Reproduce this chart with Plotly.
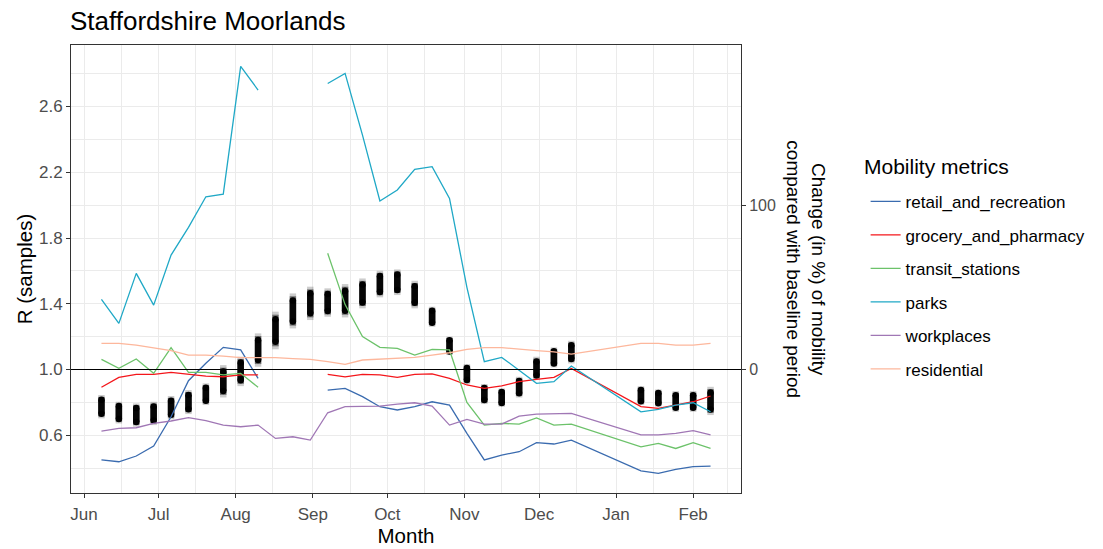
import plotly.graph_objects as go

# weekly dates (no data for 21 Dec - 4 Jan)
weeks = ["2020-06-08", "2020-06-15", "2020-06-22", "2020-06-29", "2020-07-06",
         "2020-07-13", "2020-07-20", "2020-07-27", "2020-08-03", "2020-08-10",
         "2020-08-17", "2020-08-24", "2020-08-31", "2020-09-07", "2020-09-14",
         "2020-09-21", "2020-09-28", "2020-10-05", "2020-10-12", "2020-10-19",
         "2020-10-26", "2020-11-02", "2020-11-09", "2020-11-16", "2020-11-23",
         "2020-11-30", "2020-12-07", "2020-12-14", "2021-01-11", "2021-01-18",
         "2021-01-25", "2021-02-01", "2021-02-08"]

# spread of the R samples per week
r_low = [0.703, 0.672, 0.652, 0.662, 0.697, 0.729, 0.784, 0.830, 0.899, 1.017,
         1.123, 1.250, 1.301, 1.321, 1.317, 1.372, 1.439, 1.453, 1.372, 1.260,
         1.088, 0.912, 0.790, 0.774, 0.830, 0.936, 1.013, 1.037, 0.784, 0.774,
         0.743, 0.743, 0.723]
r_high = [0.845, 0.804, 0.794, 0.804, 0.839, 0.875, 0.916, 1.027, 1.078, 1.220,
          1.352, 1.463, 1.504, 1.494, 1.520, 1.554, 1.601, 1.609, 1.540, 1.382,
          1.200, 1.033, 0.912, 0.885, 0.956, 1.078, 1.135, 1.175, 0.899, 0.879,
          0.869, 0.869, 0.895]

# mobility change (%) vs baseline
retail = [-55.0, -56.1, -52.6, -46.5, -28.7, -6.8, 3.8, 13.5, 11.9, -5.4,
          None, None, None, -12.5, -11.5, -16.5, -22.6, -24.6, -22.6, -19.6,
          -21.6, -38.8, -55.0, -52.0, -50.0, -44.5, -45.3, -42.9, -61.6, -63.2,
          -60.7, -59.1, -58.7]
grocery = [-10.8, -4.8, -2.9, -2.9, -1.7, -2.9, -4.0, -4.4, -3.3, -3.3,
           None, None, None, -2.9, -4.4, -2.9, -3.3, -4.8, -2.9, -2.7,
           -5.4, -9.4, -11.5, -10.0, -7.4, -6.0, -4.8, 0.7, -22.6, -23.6,
           -21.6, -19.6, -16.1]
transit = [6.2, 0.7, 6.4, -2.3, 13.3, -1.7, -1.7, -3.3, -2.3, -10.8,
           None, None, None, 70.7, 39.5, 20.0, 13.5, 12.9, 8.8, 12.3,
           11.9, -20.0, -33.8, -32.8, -33.2, -29.4, -33.8, -33.2, -47.0, -44.9,
           -48.0, -44.5, -48.0]
parks = [42.7, 28.1, 58.5, 39.2, 69.6, 86.5, 105.1, 106.7, 184.4, 170.0,
         None, None, None, 174.0, 180.1, 142.6, 102.5, 109.2, 121.7, 123.4,
         104.1, 50.0, 4.8, 7.4, -0.3, -8.4, -7.4, 2.1, -25.7, -24.2,
         -21.6, -20.2, -25.7]
workplaces = [-37.4, -35.8, -35.4, -32.7, -31.3, -29.3, -31.1, -33.8, -34.8, -33.8,
              -41.9, -40.9, -42.9, -26.3, -22.6, -22.2, -22.2, -21.0, -20.2, -22.2,
              -33.8, -30.3, -33.2, -33.2, -28.3, -27.1, -26.7, -26.7, -39.8, -39.8,
              -38.8, -37.2, -39.8]
residential = [15.9, 15.9, 14.9, 13.3, 11.5, 8.8, 8.8, 8.2, 7.2, 7.2,
               7.2, 6.6, 6.2, 4.8, 3.1, 5.8, 6.4, 7.2, 7.4, 8.8,
               10.2, 12.3, 13.3, 13.3, 12.3, 11.5, 10.8, 9.4, 15.9, 15.9,
               14.9, 14.9, 15.9]

metrics = [
    ("retail_and_recreation", retail, "#3A6BAF"),
    ("grocery_and_pharmacy", grocery, "#F4161B"),
    ("transit_stations", transit, "#6CC26A"),
    ("parks", parks, "#1FA8C6"),
    ("workplaces", workplaces, "#A077B5"),
    ("residential", residential, "#FDB79C"),
]

FONT = "Liberation Sans, Arial, sans-serif"
TICK = 17
AXT = 20.5
fig = go.Figure()

# R samples: stacked translucent strokes, rounded core ends
for frac, alpha in [(0.0, 0.2), (0.08, 0.45), (0.2, 0.95)]:
    xs, ys = [], []
    ends_x, ends_y = [], []
    for d, lo, hi in zip(weeks, r_low, r_high):
        pad = (hi - lo) * frac
        xs += [d, d, None]
        ys += [lo + pad, hi - pad, None]
        ends_x += [d, d]
        ends_y += [lo + pad, hi - pad]
    fig.add_trace(go.Scatter(x=xs, y=ys, mode="lines", showlegend=False,
                             line=dict(color=f"rgba(0,0,0,{alpha})", width=6.5),
                             hoverinfo="skip"))
    if frac > 0.1:
        fig.add_trace(go.Scatter(x=ends_x, y=ends_y, mode="markers", showlegend=False,
                                 marker=dict(color="black", size=6.5, line=dict(width=0)),
                                 hoverinfo="skip"))

for name, vals, col in metrics:
    fig.add_trace(go.Scatter(x=weeks, y=vals, mode="lines", name=name,
                             yaxis="y2", legendgroup=name,
                             line=dict(color=col, width=1.3),
                             connectgaps=False))

fig.add_hline(y=1.0, line=dict(color="black", width=1.1))

grid = "#EBEBEB"
fig.update_layout(
    width=1103, height=549,
    paper_bgcolor="white", plot_bgcolor="white",
    margin=dict(l=71, r=360, t=45, b=56),
    font=dict(family=FONT, size=TICK, color="black"),
    title=dict(text="Staffordshire Moorlands", x=70 / 1103, xanchor="left",
               y=1 - 21 / 549, yanchor="middle", font=dict(size=26, color="black")),
    xaxis=dict(
        type="date", range=["2020-05-26 18:00", "2021-02-20 06:00"],
        tick0="2020-06-01", dtick="M1", tickformat="%b",
        ticks="outside", ticklen=4, tickcolor="#333333", ticklabelstandoff=2,
        tickfont=dict(size=TICK, color="#4D4D4D"),
        showgrid=True, gridcolor=grid, gridwidth=1.2,
        minor=dict(showgrid=True, gridcolor=grid, gridwidth=0.8,
                   tickvals=["2020-05-16", "2020-06-16", "2020-07-16", "2020-08-16",
                             "2020-09-16", "2020-10-16", "2020-11-16", "2020-12-16",
                             "2021-01-16", "2021-02-15"]),
        showline=True, mirror=True, linecolor="#333333", linewidth=1,
        zeroline=False, automargin=False,
        title=dict(text="Month", font=dict(size=AXT), standoff=4),
    ),
    yaxis=dict(
        range=[0.249, 2.974], tickvals=[0.6, 1.0, 1.4, 1.8, 2.2, 2.6],
        ticktext=["0.6", "1.0", "1.4", "1.8", "2.2", "2.6"],
        ticks="outside", ticklen=4, tickcolor="#333333",
        tickfont=dict(size=TICK, color="#4D4D4D"),
        showgrid=True, gridcolor=grid, gridwidth=1.2,
        minor=dict(showgrid=True, gridcolor=grid, gridwidth=0.8,
                   tickvals=[0.4, 0.8, 1.2, 1.6, 2.0, 2.4, 2.8]),
        showline=True, mirror=True, linecolor="#333333", linewidth=1,
        zeroline=False, automargin=False,
        title=dict(text="R (samples)", font=dict(size=AXT), standoff=0),
    ),
    yaxis2=dict(
        overlaying="y", side="right", range=[-75.1, 197.4],
        tickvals=[0, 100], ticks="outside", ticklen=4, tickcolor="#333333",
        tickfont=dict(size=16, color="#4D4D4D"),
        showgrid=False, zeroline=False, showline=False, automargin=False,
    ),
    legend=dict(
        x=1.186, xanchor="left", y=0.69, yanchor="top",
        font=dict(size=TICK), tracegroupgap=8.4, itemwidth=30,
        bgcolor="rgba(0,0,0,0)",
    ),
    annotations=[
        dict(text="Change (in %) of mobility<br>compared with baseline period",
             xref="paper", yref="paper", x=1.0965, y=0.5, xanchor="center",
             yanchor="middle", textangle=90, showarrow=False,
             font=dict(size=19, color="black")),
        dict(text="Mobility metrics", xref="paper", yref="paper",
             x=(864 - 71) / 672, y=(493 - 166) / 448, xanchor="left",
             yanchor="middle", showarrow=False,
             font=dict(size=21, color="black")),
    ],
)

fig.write_html("out.html", config={"displayModeBar": False},
               post_script="document.body.style.margin='0';")
